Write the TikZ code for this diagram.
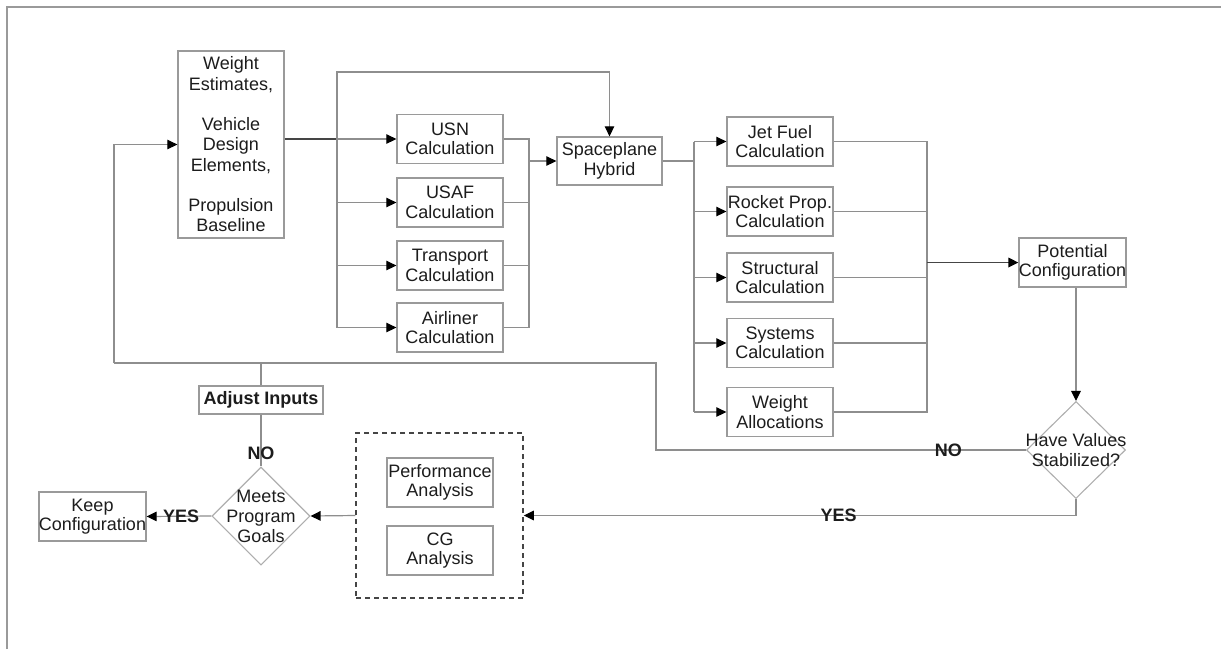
\documentclass[tikz,border=0pt]{standalone}
\usepackage{fontspec}
\setmainfont{Liberation Sans}
\usetikzlibrary{shapes.geometric,arrows.meta}

\definecolor{boxgray}{HTML}{9A9A9A}
\definecolor{linegray}{HTML}{8E8E8E}
\definecolor{darkline}{HTML}{454545}
\definecolor{inkgray}{HTML}{1C1C1C}

\tikzset{
  calcbox/.style={draw=boxgray, line width=1.3pt, minimum width=106, minimum height=49,
    inner sep=0pt, align=center, text=inkgray, font=\fontsize{18}{19.5}\selectfont},
  decision/.style={diamond, draw=boxgray!80, line width=1.1pt, inner sep=0pt},
  dectext/.style={align=center, text=inkgray, inner sep=0pt, font=\fontsize{18}{19.5}\selectfont},
  tag/.style={text=inkgray, inner sep=0pt, font=\bfseries\fontsize{18}{20}\selectfont},
  flowline/.style={draw=linegray, line width=1.2pt},
  heavyline/.style={draw=darkline, line width=1.7pt},
  tip/.style={-{Triangle[length=10pt,width=9.5pt]}, arrows={[color=black]}},
}

\begin{document}
\begin{tikzpicture}[x=1pt, y=-1pt]
\useasboundingbox (0,0) rectangle (1221,649);

% sheet edges
\draw[draw=boxgray, line width=1.3pt] (7,649) -- (7,7) -- (1221,7);

% input block
\node[calcbox, minimum height=187, font=\fontsize{18}{20.25}\selectfont] (wt) at (231,144.5)
  {Weight\\Estimates,\\[20.25pt]Vehicle\\Design\\Elements,\\[20.25pt]Propulsion\\Baseline};

% first calculation column
\node[calcbox] (usn)   at (450,139)   {USN\\Calculation};
\node[calcbox] (usaf)  at (450,202.5) {USAF\\Calculation};
\node[calcbox] (trans) at (450,265.5) {Transport\\Calculation};
\node[calcbox] (air)   at (450,327.5) {Airliner\\Calculation};

\node[calcbox, minimum width=105, minimum height=48] (sp) at (609.5,161) {Spaceplane\\Hybrid};

% second calculation column
\node[calcbox] (jet)    at (780,141.5) {Jet Fuel\\Calculation};
\node[calcbox] (rock)   at (780,211.5) {Rocket Prop.\\Calculation};
\node[calcbox] (struc)  at (780,277.5) {Structural\\Calculation};
\node[calcbox] (sys)    at (780,343)   {Systems\\Calculation};
\node[calcbox] (walloc) at (780,412)   {Weight\\Allocations};

\node[calcbox, minimum width=107] (pot) at (1072.5,262.5) {Potential\\Configuration};

% stability check
\node[decision, minimum width=99, minimum height=97] (have) at (1076,450) {};
\node[dectext] (havetxt) at (have.center) {Have Values\\Stabilized?};

% analysis group
\node[draw=darkline, dashed, dash pattern=on 5pt off 4pt, line width=1.5pt,
      minimum width=167, minimum height=165, inner sep=0pt] (grp) at (439.5,515.5) {};
\node[calcbox] (perf) at (440,482.5) {Performance\\Analysis};
\node[calcbox] (cg)   at (440,550.5) {CG\\Analysis};

% goal check
\node[decision, minimum width=98, minimum height=98] (meets) at (261,516) {};
\node[dectext, font=\fontsize{18}{20}\selectfont] (meetstxt) at (meets.center) {Meets\\Program\\Goals};

\node[calcbox, minimum width=124, minimum height=28, font=\bfseries\fontsize{18}{20}\selectfont] (adj) at (261,400) {Adjust Inputs};
\node[calcbox, minimum width=107] (keep) at (92.5,516.5) {Keep\\Configuration};

% distribution bus to the first column
\coordinate (busA) at (337,139);
\draw[heavyline] (wt.east |- usn.west) -- (busA);
\draw[flowline, tip] (busA) -- (usn.west);
\draw[flowline] (busA) -- (337,72) -- (609.5,72);
\draw[flowline, tip] (609.5,72) -- (sp.north);
\draw[flowline] (busA) |- (air.west);
\draw[flowline, tip] (337,327.5) -- (air.west);
\draw[flowline, tip] (usaf.west -| busA) -- (usaf.west);
\draw[flowline, tip] (trans.west -| busA) -- (trans.west);

% collection into the hybrid
\coordinate (busB) at (529,161);
\draw[flowline] (usn.east) -| (busB);
\draw[flowline] (air.east) -| (busB);
\draw[flowline] (usaf.east) -- (usaf.east -| busB);
\draw[flowline] (trans.east) -- (trans.east -| busB);
\draw[flowline, tip] (busB) -- (sp.west);

% distribution to the second column
\coordinate (busC) at (694,161);
\draw[flowline] (sp.east) -- (busC);
\draw[flowline] (jet.west -| busC) -- (walloc.west -| busC);
\foreach \n in {jet,rock,struc,sys,walloc}
  \draw[flowline, tip] (\n.west -| busC) -- (\n.west);

% collection into the configuration
\coordinate (busD) at (927,262.5);
\draw[flowline] (jet.east) -| (busD);
\draw[flowline] (walloc.east) -| (busD);
\foreach \n in {rock,struc,sys}
  \draw[flowline] (\n.east) -- (\n.east -| busD);
\draw[heavyline, tip] (busD) -- (pot.west);

\draw[flowline, tip] (pot.south -| have.north) -- (have.north);

% iteration loop back to the inputs
\coordinate (loopR) at (656,363);
\coordinate (loopL) at (114,363);
\draw[flowline] (have.west) -- node[tag, pos=0.21] {NO} (have.west -| loopR) -- (loopR) -- (loopL);
\draw[flowline, tip] (loopL) |- (wt.west);
\draw[flowline] (loopL -| adj.north) -- (adj.north);
\draw[flowline] (adj.south) -- node[tag, pos=0.74] {NO} (meets.north);

% accepted values to the analyses
\draw[flowline] (have.south) -- (have.south |- grp.east);
\draw[flowline, tip] (have.south |- grp.east) -- node[tag, pos=0.43] {YES} (grp.east);
\draw[flowline, tip] (grp.west) -- (meets.east);
\draw[flowline, tip] (meets.west) -- node[tag, pos=0.47] {YES} (keep.east);
\end{tikzpicture}
\end{document}
